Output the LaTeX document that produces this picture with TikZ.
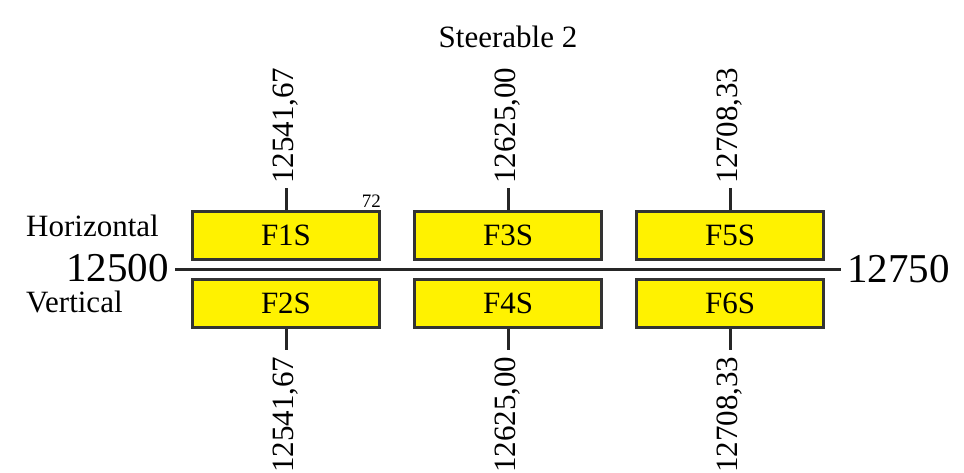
\documentclass[tikz,border=0pt]{standalone}
\usepackage{fontspec}
\setmainfont{Liberation Serif}
\usetikzlibrary{positioning}

\begin{document}
\begin{tikzpicture}[x = 1pt, y = -1pt]
\tikzstyle{FilterStyle}=[shape = rectangle,
                         draw = black!80,
                         line width = 3pt,
                         fill = yellow,
                         minimum width = 187pt,
                         minimum height = 48pt,
                         inner sep = 0pt,
                         font = \fontsize{31}{37}\selectfont]
\tikzstyle{TickStyle}=[draw = black!85, line width = 3pt]
\tikzstyle{FreqStyle}=[rotate = 90, inner sep = 4pt, font = \fontsize{31}{37}\selectfont]
\tikzstyle{TextStyle}=[inner sep = 0pt, font = \fontsize{31}{37}\selectfont]
\tikzstyle{EndStyle}=[inner sep = 0pt, font = \fontsize{41}{49}\selectfont]
\useasboundingbox (0,0) rectangle (964,472);
\node[TextStyle, anchor = base] (title) at (508,47) {Steerable 2};
\node[FilterStyle] (F1S) at (286,235.5) {F1S};
\node[FilterStyle] (F3S) at (508,235.5) {F3S};
\node[FilterStyle] (F5S) at (730,235.5) {F5S};
\node[FilterStyle] (F2S) at (286,303) {F2S};
\node[FilterStyle] (F4S) at (508,303) {F4S};
\node[FilterStyle] (F6S) at (730,303) {F6S};
\coordinate (lo) at (175,269);
\coordinate (hi) at (841,269);
\draw[TickStyle] (lo) -- (hi);
\node[EndStyle, left = 6pt of lo, yshift = 1pt] (start) {12500};
\node[EndStyle, right = 6pt of hi] (stop) {12750};
\node[TextStyle, anchor = base west] (horiz) at (26,236) {Horizontal};
\node[TextStyle, anchor = base west] (vert) at (26,312) {Vertical};
\node[inner sep = 0pt, anchor = base east, font = \fontsize{19}{22}\selectfont] (count) at (381,207) {72};
\draw[TickStyle] (F1S.north) -- ++(0,-22) coordinate (t1);
\draw[TickStyle] (F3S.north) -- ++(0,-22) coordinate (t3);
\draw[TickStyle] (F5S.north) -- ++(0,-22) coordinate (t5);
\draw[TickStyle] (F2S.south) -- ++(0,21) coordinate (t2);
\draw[TickStyle] (F4S.south) -- ++(0,21) coordinate (t4);
\draw[TickStyle] (F6S.south) -- ++(0,21) coordinate (t6);
\node[FreqStyle, anchor = west] (f1) at (t1) {12541,67};
\node[FreqStyle, anchor = west] (f3) at (t3) {12625,00};
\node[FreqStyle, anchor = west] (f5) at (t5) {12708,33};
\node[FreqStyle, anchor = east, inner sep = 7pt] (f2) at (t2) {12541,67};
\node[FreqStyle, anchor = east, inner sep = 7pt] (f4) at (t4) {12625,00};
\node[FreqStyle, anchor = east, inner sep = 7pt] (f6) at (t6) {12708,33};
\end{tikzpicture}
\end{document}
